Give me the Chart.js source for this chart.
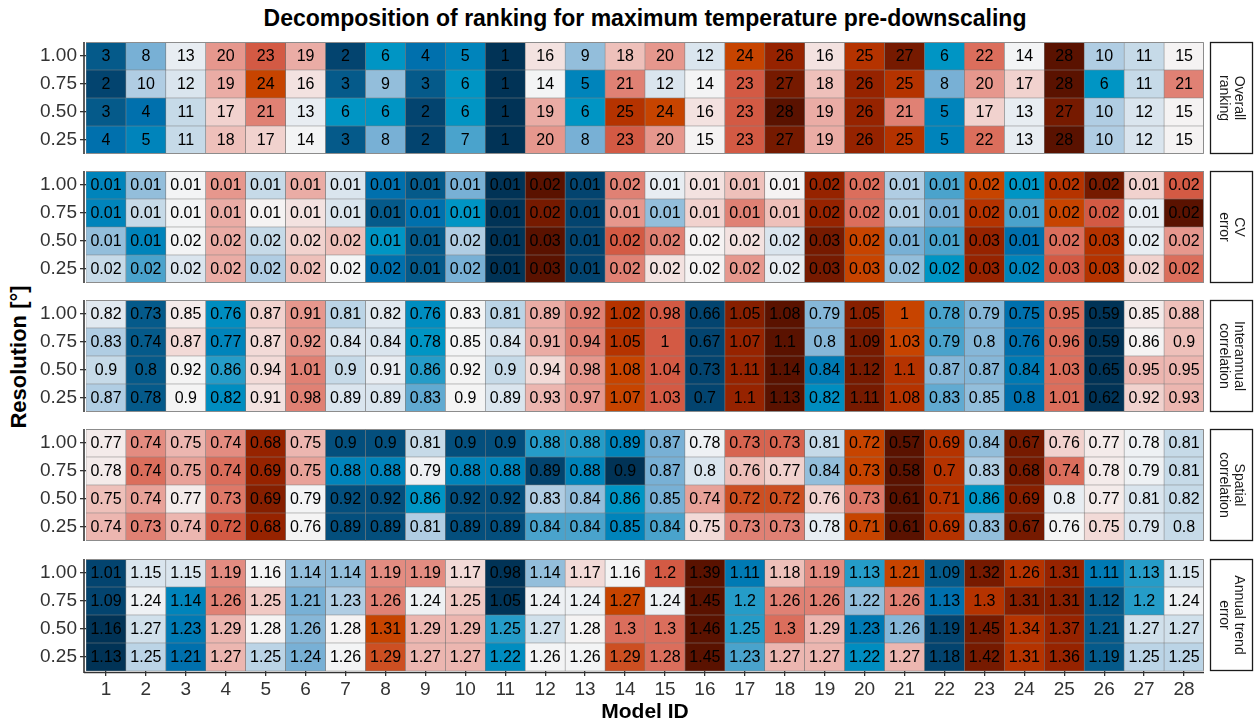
<!DOCTYPE html>
<html><head><meta charset="utf-8">
<script src="https://cdn.jsdelivr.net/npm/chart.js@4.4.1/dist/chart.umd.min.js"></script>
<style>
html,body{margin:0;padding:0;background:#fff;}
body{width:1256px;height:726px;position:relative;overflow:hidden;font-family:"Liberation Sans",Arial,sans-serif;}
canvas{position:absolute;left:0;}
#title{position:absolute;left:86px;width:1118px;top:4px;text-align:center;font-weight:bold;font-size:23px;line-height:28px;color:#000;}
#ytitle{position:absolute;left:19px;top:357px;transform:translate(-50%,-50%) rotate(-90deg);font-weight:bold;font-size:22px;white-space:nowrap;color:#000;}
</style></head><body>
<div id="title">Decomposition of ranking for maximum temperature pre-downscaling</div>
<div id="ytitle">Resolution [°]</div>
<script>
// ---------- DATA ----------
const modelIds = ['1','2','3','4','5','6','7','8','9','10','11','12','13','14','15','16','17','18','19','20','21','22','23','24','25','26','27','28'];
const resolutionLabels = ['1.00','0.75','0.50','0.25']; // rows, top to bottom

// Overall ranking (rows: 1.00, 0.75, 0.50, 0.25)
const overallRanking = [
  [3,8,13,20,23,19,2,6,4,5,1,16,9,18,20,12,24,26,16,25,27,6,22,14,28,10,11,15],
  [2,10,12,19,24,16,3,9,3,6,1,14,5,21,12,14,23,27,18,26,25,8,20,17,28,6,11,21],
  [3,4,11,17,21,13,6,6,2,6,1,19,6,25,24,16,23,28,19,26,21,5,17,13,27,10,12,15],
  [4,5,11,18,17,14,3,8,2,7,1,20,8,23,20,15,23,27,19,26,25,5,22,13,28,10,12,15]
];
// CV error
const cvError = [
  [0.01,0.01,0.01,0.01,0.01,0.01,0.01,0.01,0.01,0.01,0.01,0.02,0.01,0.02,0.01,0.01,0.01,0.01,0.02,0.02,0.01,0.01,0.02,0.01,0.02,0.02,0.01,0.02],
  [0.01,0.01,0.01,0.01,0.01,0.01,0.01,0.01,0.01,0.01,0.01,0.02,0.01,0.01,0.01,0.01,0.01,0.01,0.02,0.02,0.01,0.01,0.02,0.01,0.02,0.02,0.01,0.02],
  [0.01,0.01,0.02,0.02,0.02,0.02,0.02,0.01,0.01,0.02,0.01,0.03,0.01,0.02,0.02,0.02,0.02,0.02,0.03,0.02,0.01,0.01,0.03,0.01,0.02,0.03,0.02,0.02],
  [0.02,0.02,0.02,0.02,0.02,0.02,0.02,0.02,0.01,0.02,0.01,0.03,0.01,0.02,0.02,0.02,0.02,0.02,0.03,0.03,0.02,0.02,0.03,0.02,0.03,0.03,0.02,0.02]
];
// CV error rank within each row (values are rounded)
const cvErrorRank = [
  [5,9,14,20,11,19,12,4,3,8,1,28,2,21,13,16,18,15,26,22,10,7,24,6,25,27,17,23],
  [5,11,14,19,15,16,12,3,4,6,1,27,2,20,9,17,21,18,26,22,10,8,25,7,24,23,13,28],
  [9,5,14,19,11,17,18,6,3,10,1,28,2,23,21,15,16,12,27,24,8,7,26,4,22,25,13,20],
  [11,7,12,19,10,18,14,4,3,8,1,28,2,21,16,15,20,13,27,24,9,6,26,5,23,25,17,22]
];
// Interannual correlation
const interannualCorrelation = [
  [0.82,0.73,0.85,0.76,0.87,0.91,0.81,0.82,0.76,0.83,0.81,0.89,0.92,1.02,0.98,0.66,1.05,1.08,0.79,1.05,1,0.78,0.79,0.75,0.95,0.59,0.85,0.88],
  [0.83,0.74,0.87,0.77,0.87,0.92,0.84,0.84,0.78,0.85,0.84,0.91,0.94,1.05,1,0.67,1.07,1.1,0.8,1.09,1.03,0.79,0.8,0.76,0.96,0.59,0.86,0.9],
  [0.9,0.8,0.92,0.86,0.94,1.01,0.9,0.91,0.86,0.92,0.9,0.94,0.98,1.08,1.04,0.73,1.11,1.14,0.84,1.12,1.1,0.87,0.87,0.84,1.03,0.65,0.95,0.95],
  [0.87,0.78,0.9,0.82,0.91,0.98,0.89,0.89,0.83,0.9,0.89,0.93,0.97,1.07,1.03,0.7,1.1,1.13,0.82,1.11,1.08,0.83,0.85,0.8,1.01,0.62,0.92,0.93]
];
// Spatial correlation
const spatialCorrelation = [
  [0.77,0.74,0.75,0.74,0.68,0.75,0.9,0.9,0.81,0.9,0.9,0.88,0.88,0.89,0.87,0.78,0.73,0.73,0.81,0.72,0.57,0.69,0.84,0.67,0.76,0.77,0.78,0.81],
  [0.78,0.74,0.75,0.74,0.69,0.75,0.88,0.88,0.79,0.88,0.88,0.89,0.88,0.9,0.87,0.8,0.76,0.77,0.84,0.73,0.58,0.7,0.83,0.68,0.74,0.78,0.79,0.81],
  [0.75,0.74,0.77,0.73,0.69,0.79,0.92,0.92,0.86,0.92,0.92,0.83,0.84,0.86,0.85,0.74,0.72,0.72,0.76,0.73,0.61,0.71,0.86,0.69,0.8,0.77,0.81,0.82],
  [0.74,0.73,0.74,0.72,0.68,0.76,0.89,0.89,0.81,0.89,0.89,0.84,0.84,0.85,0.84,0.75,0.73,0.73,0.78,0.71,0.61,0.69,0.83,0.67,0.76,0.75,0.79,0.8]
];
// Annual trend error
const annualTrendError = [
  [1.01,1.15,1.15,1.19,1.16,1.14,1.14,1.19,1.19,1.17,0.98,1.14,1.17,1.16,1.2,1.39,1.11,1.18,1.19,1.13,1.21,1.09,1.32,1.26,1.31,1.11,1.13,1.15],
  [1.09,1.24,1.14,1.26,1.25,1.21,1.23,1.26,1.24,1.25,1.05,1.24,1.24,1.27,1.24,1.45,1.2,1.26,1.26,1.22,1.26,1.13,1.3,1.31,1.31,1.12,1.2,1.24],
  [1.16,1.27,1.23,1.29,1.28,1.26,1.28,1.31,1.29,1.29,1.25,1.27,1.28,1.3,1.3,1.46,1.25,1.3,1.29,1.23,1.26,1.19,1.45,1.34,1.37,1.21,1.27,1.27],
  [1.13,1.25,1.21,1.27,1.25,1.24,1.26,1.29,1.27,1.27,1.22,1.26,1.26,1.29,1.28,1.45,1.23,1.27,1.27,1.22,1.27,1.18,1.42,1.31,1.36,1.19,1.25,1.25]
];

// ---------- STYLE ----------
const PALETTE = ['#013356','#03446f','#055a8a','#0070ad','#0084bb','#0095c4','#4aa3cc','#78b0d5','#93bedb','#b0cde3',
  '#c6dae8','#dae5ee','#e8edf2','#f3f4f5','#f5f3f3','#f3e2e0','#f1d2ce','#eec0ba','#eaaca5','#e6978d',
  '#e08174','#db6e5c','#d35a44','#c74400','#b53300','#962300','#761a00','#5a1200'];
const panelTops = [42, 171, 300, 429, 559];
const PANEL_H = 112;
const FONT = '"Liberation Sans", Arial, sans-serif';

function hexToRgb(h){ return [1,3,5].map(i=>parseInt(h.substr(i,2),16)); }
function rankColor(r){
  const p = Math.min(Math.max(r-1,0),27), i = Math.floor(p), f = p-i;
  const a = hexToRgb(PALETTE[i]), b = hexToRgb(PALETTE[Math.min(i+1,27)]);
  const c = a.map((v,k)=>Math.round(v+(b[k]-v)*f));
  return `rgb(${c[0]},${c[1]},${c[2]})`;
}
function rowRanks(row, ascending){
  return row.map(v=>{
    let before=0, eq=0;
    row.forEach(w=>{ if(ascending ? w<v : w>v) before++; else if(w===v) eq++; });
    return before + (eq+1)/2;
  });
}

const panels = [
  {strip:['Overall','ranking'], values:overallRanking, ranks:overallRanking},
  {strip:['CV','error'], values:cvError, ranks:cvErrorRank},
  {strip:['Interannual','correlation'], values:interannualCorrelation, ranks:interannualCorrelation.map(r=>rowRanks(r,true))},
  {strip:['Spatial','correlation'], values:spatialCorrelation, ranks:spatialCorrelation.map(r=>rowRanks(r,false))},
  {strip:['Annual trend','error'], values:annualTrendError, ranks:annualTrendError.map(r=>rowRanks(r,true))}
];

const heatPlugin = {
  id:'heat',
  afterDatasetsDraw(chart, args, opts){
    const ctx = chart.ctx, ca = chart.chartArea;
    ctx.save();
    ctx.font = '16px ' + FONT;
    ctx.fillStyle = '#000'; ctx.textAlign = 'center'; ctx.textBaseline = 'middle';
    chart.data.datasets.forEach((ds,di)=>{
      chart.getDatasetMeta(di).data.forEach((el,i)=>{
        ctx.fillText(ds.cellText[i], el.x, (el.y+el.base)/2 + 1);
      });
    });
    // panel border (top/right/bottom)
    ctx.strokeStyle = '#8c8c8c'; ctx.lineWidth = 1;
    ctx.beginPath();
    ctx.moveTo(ca.left, ca.top+0.5); ctx.lineTo(ca.right-0.5, ca.top+0.5);
    ctx.lineTo(ca.right-0.5, ca.bottom-0.5);
    if(!opts.last) ctx.lineTo(ca.left, ca.bottom-0.5);
    ctx.stroke();
    // axis lines
    ctx.strokeStyle = '#333'; ctx.lineWidth = 1.6;
    ctx.beginPath(); ctx.moveTo(ca.left-2, ca.top); ctx.lineTo(ca.left-2, ca.bottom + (opts.last?2:0)); ctx.stroke();
    if(opts.last){ ctx.beginPath(); ctx.moveTo(ca.left-2, ca.bottom+1.5); ctx.lineTo(ca.right, ca.bottom+1.5); ctx.stroke(); }
    // strip
    const sx = ca.right + 6, sw = 43, sh = ca.bottom - ca.top;
    ctx.fillStyle = '#fff'; ctx.fillRect(sx, ca.top, sw, sh);
    ctx.strokeStyle = '#1a1a1a'; ctx.lineWidth = 1.3; ctx.strokeRect(sx+0.5, ca.top+0.5, sw-1, sh-1);
    ctx.translate(sx + sw/2, ca.top + sh/2); ctx.rotate(Math.PI/2);
    ctx.fillStyle = '#1a1a1a'; ctx.font = '14px ' + FONT;
    const lh = 15, lines = opts.strip;
    lines.forEach((t,k)=>ctx.fillText(t, 0, (k-(lines.length-1)/2)*lh));
    ctx.restore();
  }
};

panels.forEach((p, pi)=>{
  const last = pi === panels.length-1;
  const canvas = document.createElement('canvas');
  const top = panelTops[pi] - 8;
  const h = last ? 726 - top : PANEL_H + 16;
  canvas.width = 1256; canvas.height = h;
  canvas.style.top = top + 'px';
  document.body.appendChild(canvas);
  // datasets bottom (0.25) to top (1.00)
  const datasets = [3,2,1,0].map(r=>({
    label: resolutionLabels[r],
    data: modelIds.map(()=>1),
    cellText: p.values[r].map(v=>String(v)),
    backgroundColor: p.ranks[r].map(rankColor),
    borderColor: 'rgba(50,50,50,0.55)',
    borderWidth: 0.6,
    borderSkipped: false,
    barPercentage: 1,
    categoryPercentage: 1
  }));
  const tickLabelsBottomUp = resolutionLabels.slice().reverse();
  new Chart(canvas, {
    type: 'bar',
    data: {labels: modelIds, datasets},
    plugins: [heatPlugin],
    options: {
      responsive: false, animation: false,
      layout: {padding: {left: 0, right: 1256-1204, top: 8, bottom: last ? 0 : 8}},
      plugins: {legend:{display:false}, tooltip:{enabled:false}, heat:{strip:p.strip, last}},
      scales: {
        x: {
          type:'category', stacked:true, offset:true, display:last,
          grid:{offset:false, drawOnChartArea:false, drawTicks:true, tickLength:5, color:'#333', lineWidth:1.3},
          border:{display:false},
          ticks:{font:{size:19, family:FONT}, color:'#333', padding:2, maxRotation:0, autoSkip:false},
          title:{display:true, text:'Model ID', font:{size:21, weight:'bold', family:FONT}, color:'#000', padding:{top:0,bottom:1}},
          afterFit(s){ s.height = last ? 726 - (panelTops[pi] + PANEL_H) : 0; s.paddingLeft = 0; s.paddingRight = 0; }
        },
        y: {
          type:'linear', stacked:true, min:0, max:4,
          afterBuildTicks(s){ s.ticks = [0.5,1.5,2.5,3.5].map(v=>({value:v})); },
          grid:{drawOnChartArea:false, drawTicks:true, tickLength:6, color:'#333', lineWidth:1.3},
          border:{display:false},
          ticks:{font:{size:19, family:FONT}, color:'#333', padding:3, callback:(v,i)=>tickLabelsBottomUp[i]},
          afterFit(s){ s.width = 86; s.paddingTop = 0; s.paddingBottom = 0; }
        }
      }
    }
  });
});
</script></body></html>
